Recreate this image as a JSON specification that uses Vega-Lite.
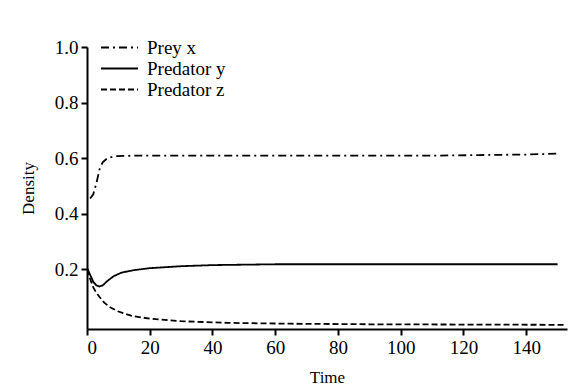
{
  "$schema": "https://vega.github.io/schema/vega-lite/v6.json",
  "width": 480,
  "height": 282,
  "padding": {"left": 87, "top": 47, "right": 6, "bottom": 62},
  "autosize": {"type": "none"},
  "config": {
    "view": {"stroke": null},
    "font": "Liberation Serif, Times New Roman, serif",
    "axis": {"grid": false, "domainColor": "black", "domainWidth": 2, "tickColor": "black", "tickWidth": 2, "tickSize": 6, "labelColor": "black", "titleColor": "black", "labelFont": "Liberation Serif, Times New Roman, serif", "titleFont": "Liberation Serif, Times New Roman, serif"},
    "legend": {"labelFont": "Liberation Serif, Times New Roman, serif"}
  },
  "data": {"values": [
    {"t": 1, "v": 0.455, "s": "Prey x"},
    {"t": 2, "v": 0.47, "s": "Prey x"},
    {"t": 3, "v": 0.51, "s": "Prey x"},
    {"t": 4, "v": 0.56, "s": "Prey x"},
    {"t": 5, "v": 0.585, "s": "Prey x"},
    {"t": 6.5, "v": 0.6, "s": "Prey x"},
    {"t": 9, "v": 0.607, "s": "Prey x"},
    {"t": 15, "v": 0.609, "s": "Prey x"},
    {"t": 40, "v": 0.609, "s": "Prey x"},
    {"t": 80, "v": 0.609, "s": "Prey x"},
    {"t": 110, "v": 0.609, "s": "Prey x"},
    {"t": 125, "v": 0.611, "s": "Prey x"},
    {"t": 140, "v": 0.613, "s": "Prey x"},
    {"t": 150, "v": 0.616, "s": "Prey x"},
    {"t": 0, "v": 0.205, "s": "Predator y"},
    {"t": 1, "v": 0.18, "s": "Predator y"},
    {"t": 2, "v": 0.155, "s": "Predator y"},
    {"t": 3, "v": 0.142, "s": "Predator y"},
    {"t": 4, "v": 0.138, "s": "Predator y"},
    {"t": 5, "v": 0.142, "s": "Predator y"},
    {"t": 6.5, "v": 0.158, "s": "Predator y"},
    {"t": 8.5, "v": 0.175, "s": "Predator y"},
    {"t": 11, "v": 0.188, "s": "Predator y"},
    {"t": 15, "v": 0.197, "s": "Predator y"},
    {"t": 20, "v": 0.204, "s": "Predator y"},
    {"t": 30, "v": 0.211, "s": "Predator y"},
    {"t": 40, "v": 0.215, "s": "Predator y"},
    {"t": 60, "v": 0.218, "s": "Predator y"},
    {"t": 100, "v": 0.218, "s": "Predator y"},
    {"t": 150, "v": 0.218, "s": "Predator y"},
    {"t": 0, "v": 0.2, "s": "Predator z"},
    {"t": 1, "v": 0.165, "s": "Predator z"},
    {"t": 2, "v": 0.135, "s": "Predator z"},
    {"t": 3, "v": 0.115, "s": "Predator z"},
    {"t": 4, "v": 0.1, "s": "Predator z"},
    {"t": 5.5, "v": 0.08, "s": "Predator z"},
    {"t": 7.5, "v": 0.062, "s": "Predator z"},
    {"t": 10, "v": 0.048, "s": "Predator z"},
    {"t": 14, "v": 0.033, "s": "Predator z"},
    {"t": 20, "v": 0.022, "s": "Predator z"},
    {"t": 30, "v": 0.013, "s": "Predator z"},
    {"t": 45, "v": 0.007, "s": "Predator z"},
    {"t": 65, "v": 0.004, "s": "Predator z"},
    {"t": 90, "v": 0.002, "s": "Predator z"},
    {"t": 120, "v": 0.001, "s": "Predator z"},
    {"t": 152, "v": 0.0, "s": "Predator z"}
  ]},
  "mark": {"type": "line", "color": "black", "strokeWidth": 1.8, "clip": true},
  "encoding": {
    "x": {"field": "t", "type": "quantitative", "title": "Time", "scale": {"domain": [0, 153], "nice": false},
      "axis": {"values": [0, 20, 40, 60, 80, 100, 120, 140], "titlePadding": 12, "labelPadding": 3, "labelFontSize": 19, "titleFontSize": 17, "titleFontWeight": "normal"}},
    "y": {"field": "v", "type": "quantitative", "title": "Density", "scale": {"domain": [-0.015, 1.0], "nice": false, "zero": false},
      "axis": {"values": [0.2, 0.4, 0.6, 0.8, 1.0], "format": ".1f", "titlePadding": 17, "labelPadding": 3, "labelFontSize": 19, "titleFontSize": 17, "titleFontWeight": "normal"}},
    "strokeDash": {"field": "s", "type": "nominal", "scale": {"domain": ["Prey x", "Predator y", "Predator z"], "range": [[8, 4, 2, 4], [1, 0], [6, 3]]},
      "legend": {"title": null, "orient": "none", "legendX": 13, "legendY": -10, "symbolType": "stroke", "symbolSize": 1369, "symbolStrokeColor": "black", "symbolStrokeWidth": 2, "labelFontSize": 19, "labelColor": "black", "rowPadding": 0, "clipHeight": 21, "labelOffset": 8}}
  }
}
